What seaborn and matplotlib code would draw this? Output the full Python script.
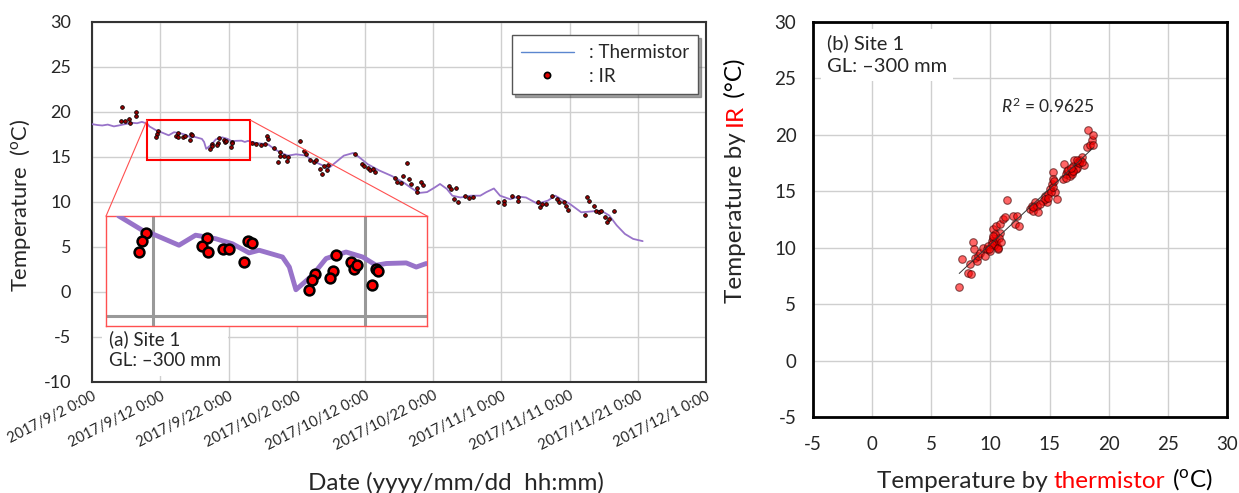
import numpy as np
import pandas as pd
import matplotlib
matplotlib.use("Agg")
import matplotlib.pyplot as plt
import matplotlib.dates as mdates
from matplotlib.patches import Rectangle, ConnectionPatch
from matplotlib.lines import Line2D
from matplotlib.ticker import FuncFormatter
import seaborn as sns

START = pd.Timestamp("2017-09-02")

# thermistor record, days after 2017/9/2 0:00
therm_day = [0.0, 0.8, 1.5, 2.3, 3.2, 3.9, 4.5, 5.2, 5.8, 6.6, 7.3, 8.1, 8.4, 9.5, 9.97,
             11.23, 12.01, 12.33, 12.96, 13.74, 14.53, 15.0, 16.1, 16.42, 16.73, 17.51,
             18.15, 19.09, 19.87, 20.5, 20.98, 21.92, 22.39, 22.86, 24.1, 25.8, 26.7,
             27.6, 28.7, 29.9, 31.4, 32.2, 34.0, 34.5, 35.7, 36.9, 38.3, 39.2, 40.4,
             42.1, 43.9, 45.6, 46.7, 47.9, 49.1, 50.2, 51.0, 52.0, 52.8, 54.0, 55.5,
             56.9, 57.8, 58.9, 59.8, 61.3, 62.4, 63.6, 65.3, 66.8, 67.9, 68.8, 70.0,
             71.7, 73.2, 74.6, 75.8, 76.9, 78.1, 79.3, 80.7]
therm_temp = [18.65, 18.55, 18.5, 18.6, 18.4, 18.5, 18.6, 18.7, 18.8, 18.75, 18.9, 18.7,
              18.4, 17.92, 17.8, 17.41, 17.75, 17.71, 17.63, 17.46, 17.15, 17.24, 17.01,
              16.67, 15.9, 16.39, 16.96, 17.18, 17.01, 16.73, 16.79, 16.81, 16.67, 16.79,
              16.55, 16.4, 15.9, 15.5, 15.15, 15.3, 15.15, 14.6, 14.0, 13.65, 14.4, 15.15,
              15.45, 14.95, 14.2, 13.5, 12.9, 12.2, 11.6, 11.0, 11.1, 11.6, 12.0, 11.45,
              10.7, 10.5, 10.7, 10.7, 11.1, 11.5, 10.7, 10.3, 10.6, 10.5, 9.8, 10.15,
              10.7, 10.3, 9.8, 8.85, 8.95, 9.05, 8.5, 7.4, 6.45, 5.9, 5.65]

# IR readings, days after 2017/9/2 0:00
ir_day = [4.35, 4.2, 4.8, 5.4, 5.5, 6.4, 6.4,
          9.66, 9.5, 9.37, 12.53, 12.33, 12.61, 13.3, 13.58, 14.5, 14.65, 14.29,
          18.62, 17.64, 17.51, 17.33, 18.49, 18.33, 19.32, 19.48, 19.59, 20.5, 20.58, 20.32,
          23.5, 24.1, 24.7, 25.3, 25.6, 25.8, 26.7, 27.5, 27.6, 27.3, 28.2, 28.5, 28.7,
          30.5, 31.1, 31.4, 32.0, 32.5, 32.8, 33.4, 33.7, 34.0, 34.4, 34.6,
          38.6, 39.5, 39.8, 40.4, 40.7, 41.2, 41.5, 44.4, 44.7, 45.3, 45.6, 46.2,
          46.5, 46.7, 47.6, 47.6, 48.2, 48.5, 52.3, 52.6, 53.4, 53.1, 53.7, 54.6,
          55.2, 55.8, 59.5, 60.4, 60.4, 61.6, 62.4, 62.4, 65.3, 65.6, 65.9, 66.5,
          67.4, 68.2, 68.5, 69.1, 69.4, 69.7, 72.6, 72.9, 73.5, 73.8, 74.3, 74.6,
          75.2, 75.5, 75.8, 76.5, 72.3]
ir_temp = [20.5, 19.0, 19.0, 19.2, 18.8, 20.0, 19.5,
           17.84, 17.54, 17.18, 17.65, 17.38, 17.18, 17.27, 17.29, 17.55, 17.48, 16.84,
           17.09, 16.42, 16.22, 15.88, 16.54, 16.31, 16.84, 16.62, 16.73, 16.62, 16.53, 16.07,
           16.6, 16.4, 16.3, 16.4, 17.35, 17.0, 16.05, 15.6, 15.15, 14.4, 15.15, 14.6, 15.0,
           16.8, 15.7, 15.3, 14.7, 14.4, 14.7, 13.65, 13.1, 14.0, 13.5, 14.1,
           15.3, 14.2, 14.0, 13.8, 13.5, 13.65, 13.3, 12.7, 12.2, 12.1, 12.9, 14.3,
           12.6, 12.0, 11.6, 11.15, 12.2, 11.9, 11.8, 11.45, 11.6, 10.3, 10.0, 10.7,
           10.4, 10.5, 9.95, 10.15, 9.8, 10.7, 10.15, 10.5, 9.95, 9.4, 9.8, 9.8,
           10.7, 10.3, 10.0, 9.95, 9.6, 9.15, 10.5, 10.15, 9.6, 9.05, 8.85, 8.95,
           8.3, 7.75, 8.1, 8.95, 8.5]

# panel (b): thermistor vs IR
sc_therm = [7.36, 7.56, 8.12, 8.32, 8.27, 8.55, 8.6, 8.69, 8.83, 8.97, 9.11, 9.39, 9.54,
            9.68, 9.82, 9.96, 10.1, 10.24, 10.38, 10.24, 10.47, 10.52, 10.66, 10.8, 10.8,
            11.09, 11.23, 11.43, 11.93, 12.08, 12.27, 12.44, 13.35, 13.49, 13.63, 13.77,
            13.91, 14.05, 14.48, 14.62, 14.76, 14.9, 15.04, 15.18, 15.26, 15.32, 15.46,
            15.6, 16.17, 16.25, 16.39, 16.5, 16.73, 16.87, 17.02, 17.1, 17.3, 17.44,
            17.58, 17.72, 17.92, 18.14, 18.29, 18.43, 18.57, 18.65, 18.71,
            10.3, 10.5, 10.7, 10.1, 10.6, 10.9, 10.4, 9.9, 10.2,
            16.6, 16.9, 17.2, 17.5, 17.0, 16.4, 17.7, 17.3, 16.8,
            13.6, 14.2, 14.6, 15.1, 15.3, 15.4, 14.9]
sc_ir = [6.5, 8.97, 7.78, 7.63, 8.52, 10.51, 9.86, 9.11, 8.82, 9.26, 9.56, 10.0, 9.26,
         9.86, 10.15, 9.71, 10.6, 10.9, 10.45, 11.64, 11.94, 10.15, 9.86, 11.34, 12.09,
         12.53, 12.68, 14.25, 12.83, 12.09, 12.83, 11.88, 13.42, 13.72, 13.27, 14.02,
         13.72, 13.13, 14.17, 14.61, 14.02, 14.76, 15.2, 15.65, 16.75, 16.1, 14.91,
         14.31, 16.1, 17.4, 16.54, 16.84, 16.39, 16.69, 17.28, 17.73, 17.05, 17.58,
         17.73, 18.03, 17.37, 18.92, 20.4, 19.07, 19.51, 20.02, 19.07,
         10.2, 10.6, 10.9, 10.3, 10.0, 10.5, 11.2, 9.9, 11.0,
         16.9, 16.5, 17.0, 17.5, 16.8, 16.2, 17.6, 17.8, 17.1,
         13.6, 13.9, 14.3, 14.9, 15.4, 15.9, 14.4]

r2_label = "0.9625"
date_ticks = pd.date_range("2017-09-02", "2017-12-01", freq="10D")

therm = pd.DataFrame({"date": START + pd.to_timedelta(therm_day, unit="D"), "temp": therm_temp})
ir = pd.DataFrame({"date": START + pd.to_timedelta(ir_day, unit="D"), "temp": ir_temp})
pairs = pd.DataFrame({"therm": sc_therm, "ir": sc_ir})

sns.set_theme(style="white")
plt.rcParams["font.family"] = ["Lato", "DejaVu Sans"]
plt.rcParams["mathtext.fontset"] = "custom"
plt.rcParams["mathtext.rm"] = "Lato"
plt.rcParams["mathtext.it"] = "Lato:italic"
plt.rcParams["axes.unicode_minus"] = False

PURPLE = "#9873c9"
GRID = "#cfcfcf"
LABEL_FS = 17.5

fig = plt.figure(figsize=(12.39, 4.93), dpi=100)
ax = fig.add_axes([0.0743, 0.2252, 0.4956, 0.7302])

sns.lineplot(data=therm, x="date", y="temp", ax=ax, color=PURPLE, lw=1.3,
             estimator=None, legend=False, zorder=3)
sns.scatterplot(data=ir, x="date", y="temp", ax=ax, s=7, color="#9b0000",
                edgecolor="black", linewidth=0.6, legend=False, zorder=4)

ax.set_xlim(date_ticks[0], date_ticks[-1])
ax.set_ylim(-10, 30)
ax.set_yticks(range(-10, 31, 5))
ax.set_xticks(date_ticks)
ax.xaxis.set_major_formatter(FuncFormatter(
    lambda v, p: "{0.year}/{0.month}/{0.day} 0:00".format(mdates.num2date(v))))
ax.grid(True, color=GRID, lw=1)
ax.tick_params(axis="both", length=0)
ax.tick_params(axis="y", labelsize=13, pad=15)
ax.tick_params(axis="x", labelsize=10.5, pad=5)
for lab in ax.get_xticklabels():
    lab.set_rotation(27)
    lab.set_ha("right")
    lab.set_rotation_mode("anchor")
for sp in ax.spines.values():
    sp.set_color("#333333")
    sp.set_linewidth(1.5)
ax.set_xlabel("Date (yyyy/mm/dd  hh:mm)", fontsize=LABEL_FS)
ax.xaxis.set_label_coords(0.593, -0.25)
ax.set_ylabel("Temperature  (" + r"$^{\rm o}$" + "C)", fontsize=15.8)
ax.yaxis.set_label_coords(-0.096, 0.49)

ax.text(0.028, 0.035, "(a) Site 1\nGL: \u2013300 mm", transform=ax.transAxes,
        fontsize=13.5, va="bottom", ha="left", linespacing=1.3, zorder=5,
        bbox=dict(facecolor="white", edgecolor="none", pad=5))

handles = [Line2D([], [], color="#5b86cf", lw=1),
           Line2D([], [], ls="none", marker="o", ms=4.5, mfc="#e00000", mec="black", mew=1.2)]
ax.legend(handles, [": Thermistor", ": IR"], loc="upper right", bbox_to_anchor=(0.987, 0.964),
          borderaxespad=0, fontsize=13.5, frameon=True, fancybox=False, edgecolor="#555555",
          shadow=True, handlelength=2.8, borderpad=0.5, labelspacing=0.35, framealpha=1)

# zoom box and inset
box_x0 = mdates.date2num(START + pd.Timedelta(days=8.06))
box_x1 = mdates.date2num(START + pd.Timedelta(days=23.2))
ax.add_patch(Rectangle((box_x0, 14.7), box_x1 - box_x0, 4.4, fill=False,
                       edgecolor="red", lw=1.5, zorder=5))

ax_in = fig.add_axes([0.0856, 0.3387, 0.2591, 0.2231])
sns.lineplot(data=therm, x="date", y="temp", ax=ax_in, color=PURPLE, lw=3.5,
             estimator=None, legend=False, zorder=3)
sns.scatterplot(data=ir, x="date", y="temp", ax=ax_in, s=50, color="red",
                edgecolor="black", linewidth=1.8, legend=False, zorder=4)
ax_in.set_xlim(START + pd.Timedelta(days=7.8), START + pd.Timedelta(days=22.9))
ax_in.set_ylim(14.67, 18.4)
ax_in.set_xticks([START + pd.Timedelta(days=10), START + pd.Timedelta(days=20)])
ax_in.set_yticks([15])
ax_in.grid(True, color="#999999", lw=2.2)
ax_in.tick_params(length=0, labelbottom=False, labelleft=False)
ax_in.set_xlabel("")
ax_in.set_ylabel("")
for sp in ax_in.spines.values():
    sp.set_color("#ff5050")
    sp.set_linewidth(1)

for xa, xb in [(box_x0, (0, 1)), (box_x1, (1, 1))]:
    fig.add_artist(ConnectionPatch(xyA=(xa, 19.1), coordsA=ax.transData, xyB=xb,
                                   coordsB=ax_in.transAxes, color="#ff5050", lw=0.8))

# panel (b)
ax2 = fig.add_axes([0.6562, 0.1542, 0.3341, 0.8012])
sns.scatterplot(data=pairs, x="therm", y="ir", ax=ax2, s=30, color="red", alpha=0.6,
                edgecolor="#3a0000", linewidth=0.8, legend=False, zorder=3)
sns.regplot(data=pairs, x="therm", y="ir", ax=ax2, scatter=False, ci=None,
            line_kws=dict(color="#333333", lw=0.7, zorder=4))
ax2.set_xlim(-5, 30)
ax2.set_ylim(-5, 30)
ax2.set_xticks(range(-5, 31, 5))
ax2.set_yticks(range(-5, 31, 5))
ax2.grid(True, color=GRID, lw=1)
ax2.tick_params(axis="both", length=0, labelsize=13.5)
ax2.tick_params(axis="x", pad=14)
ax2.tick_params(axis="y", pad=12)
ax2.set_xlabel("")
ax2.set_ylabel("")
for sp in ax2.spines.values():
    sp.set_color("black")
    sp.set_linewidth(2)
ax2.text(14.8, 22.5, r"$R^2$ = " + r2_label, ha="center", va="center", fontsize=12.5)
ax2.text(0.034, 0.968, "(b) Site 1\nGL: \u2013300 mm", transform=ax2.transAxes,
         fontsize=14.5, va="top", ha="left", linespacing=1.4, zorder=5,
         bbox=dict(facecolor="white", edgecolor="none", pad=4))

# two-colour axis titles for panel (b)
t = ax2.annotate("Temperature by ", xy=(877 / 1239, 11 / 493), xycoords="figure fraction",
                 ha="left", va="center", fontsize=LABEL_FS, annotation_clip=False)
for s, c in [("thermistor", "red"), (" (" + r"$^{\rm o}$" + "C)", "black")]:
    t = ax2.annotate(s, xy=(1, 0), xycoords=t, ha="left", va="bottom", color=c,
                     fontsize=LABEL_FS, annotation_clip=False)

t = ax2.annotate("Temperature by ", xy=(735 / 1239, 190 / 493), xycoords="figure fraction",
                 ha="center", va="bottom", rotation=90, fontsize=LABEL_FS, annotation_clip=False)
for s, c in [("IR", "red"), (" (\u00b0C)", "black")]:
    t = ax2.annotate(s, xy=(0, 1), xycoords=t, ha="left", va="bottom", rotation=90,
                     color=c, fontsize=LABEL_FS, annotation_clip=False)

fig.savefig("out.png", dpi=100)
